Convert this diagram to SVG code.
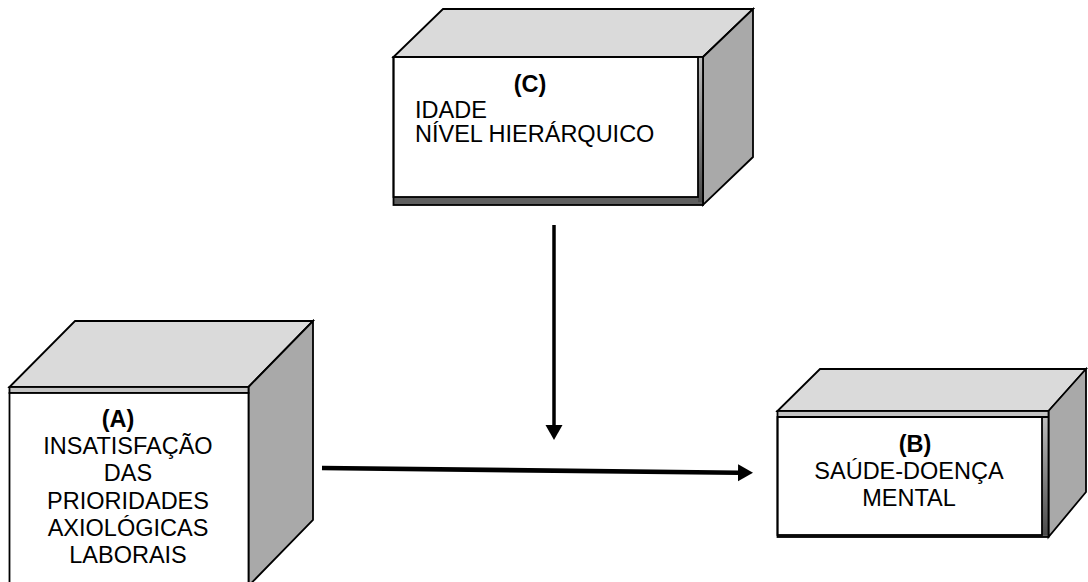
<svg xmlns="http://www.w3.org/2000/svg" width="1088" height="582" viewBox="0 0 1088 582">
  <style>
    .edge { stroke: #000; stroke-width: 1.8; stroke-linejoin: miter; }
    .top { fill: #dadada; }
    .side { fill: #a9a9a9; }
    .face { fill: #ffffff; }
    .lip { fill: #c4c4c4; }
    .shade { fill: #5f5f5f; }
    .txt { font-family: "Liberation Sans", Arial, sans-serif; font-size: 23.5px; fill: #000; }
    .head { font-weight: bold; }
    .mid { text-anchor: middle; }
    .link { stroke: #000; fill: none; }
  </style>
  <defs>
    <linearGradient id="rimV" x1="0" y1="0" x2="0" y2="1">
      <stop offset="0" stop-color="#bdbdbd"/>
      <stop offset="1" stop-color="#4a4a4a"/>
    </linearGradient>
    <marker id="tip" markerUnits="userSpaceOnUse" markerWidth="16" markerHeight="18" refX="0" refY="8.5" orient="auto">
      <path d="M0,0 L15,8.5 L0,17 z" fill="#000"/>
    </marker>
  </defs>

  <rect width="1088" height="582" fill="#ffffff"/>

  <!-- (C) moderators -->
  <g id="node-c">
    <polygon class="top edge" points="393.5,57 443,9 753,9 703,57"/>
    <polygon class="side edge" points="703,57 753,9 753,157 703,205"/>
    <rect class="shade" x="393.5" y="57" width="309.5" height="148"/>
    <rect x="698" y="57" width="5" height="145" fill="url(#rimV)"/>
    <rect class="face edge" x="393.5" y="57" width="304.5" height="140"/>
    <rect class="edge" x="393.5" y="57" width="309.5" height="148" fill="none"/>
    <text class="txt head mid" x="530" y="92">(C)</text>
    <text class="txt" x="415" y="117.5">IDADE</text>
    <text class="txt" x="415" y="142">NÍVEL HIERÁRQUICO</text>
  </g>

  <!-- (A) predictor -->
  <g id="node-a">
    <polygon class="top edge" points="9.5,387 75,321 313,321 248.5,387"/>
    <polygon class="side edge" points="248.5,387 313,321 313,520 248.5,586"/>
    <rect class="lip edge" x="9.5" y="387" width="239" height="6"/>
    <rect class="face edge" x="9.5" y="393" width="239" height="200"/>
    <text class="txt head mid" x="118" y="427">(A)</text>
    <text class="txt mid" x="128" y="454">INSATISFAÇÃO</text>
    <text class="txt mid" x="128" y="481">DAS</text>
    <text class="txt mid" x="128" y="508.5">PRIORIDADES</text>
    <text class="txt mid" x="128" y="535.5">AXIOLÓGICAS</text>
    <text class="txt mid" x="128" y="563">LABORAIS</text>
  </g>

  <!-- (B) outcome -->
  <g id="node-b">
    <polygon class="top edge" points="777.5,411 820,369 1086,369 1048.5,411"/>
    <polygon class="side edge" points="1048.5,411 1086,369 1086,492 1048.5,537"/>
    <rect class="shade" x="777.5" y="411" width="271" height="126"/>
    <rect class="lip" x="777.5" y="411" width="271" height="6"/>
    <rect x="1042" y="417" width="6.5" height="118" fill="url(#rimV)"/>
    <rect class="face edge" x="777.5" y="417" width="264.5" height="118"/>
    <rect class="edge" x="777.5" y="411" width="271" height="126" fill="none"/>
    <line class="edge" x1="777.5" y1="417" x2="1048.5" y2="417"/>
    <text class="txt head mid" x="915" y="452">(B)</text>
    <text class="txt mid" x="909" y="479">SAÚDE-DOENÇA</text>
    <text class="txt mid" x="909" y="506">MENTAL</text>
  </g>

  <!-- connectors -->
  <g id="connectors">
    <line class="link" x1="554" y1="225" x2="554" y2="425" stroke-width="3.5" marker-end="url(#tip)"/>
    <line class="link" x1="322" y1="468" x2="738" y2="472.7" stroke-width="4.6" marker-end="url(#tip)"/>
  </g>
</svg>
